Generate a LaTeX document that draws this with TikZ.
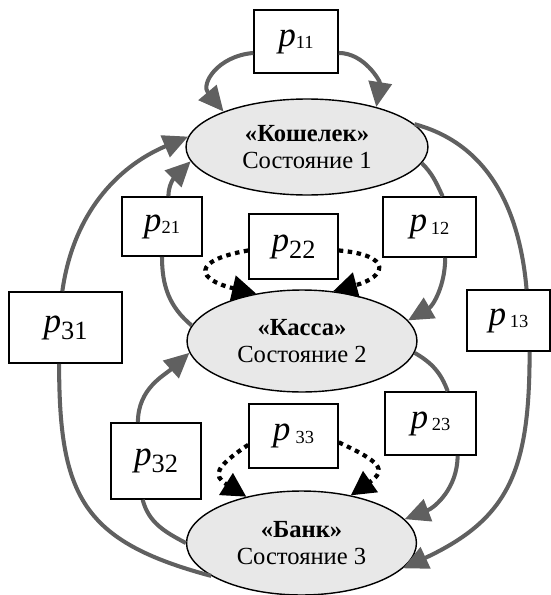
\documentclass[tikz,border=0pt]{standalone}
\usepackage{fontspec}
\setmainfont{Liberation Serif}
\usetikzlibrary{positioning}
\usetikzlibrary{arrows.meta,shapes.geometric}
\definecolor{LinkGray}{RGB}{96,96,96}
\definecolor{StateFill}{RGB}{232,232,232}
\newcommand{\psm}[2][0pt]{\textit{p}\kern#1\raisebox{-1.5pt}{\fontsize{10.5}{11}\selectfont #2}}
\newcommand{\pbig}[1]{\textit{p}\raisebox{-4pt}{\fontsize{15}{15}\selectfont #1}}
\tikzset{
	state/.style={ellipse,draw=black,line width=0.8pt,fill=StateFill,inner sep=0pt,
		align=center,font=\fontsize{14}{15.5}\selectfont},
	pbox/.style={rectangle,draw=black,line width=0.9pt,fill=white,inner sep=0pt,
		font=\fontsize{20}{22}\selectfont},
	link/.style={draw=LinkGray,line width=2.3pt},
	arr/.style={link,-{Triangle[length=0.5cm,width=0.46cm]}},
	selfarr/.style={draw=black,line width=2.4pt,dash pattern=on 0.09cm off 0.09cm,
		-{Triangle[length=0.48cm,width=0.5cm]}},
}
\begin{document}
\begin{tikzpicture}[x=0.02cm,y=-0.02cm]
					\useasboundingbox (0,0) rectangle (551,595);
					\node[state,minimum width=4.84cm,minimum height=1.92cm] (kosh) at (307,147) {\textbf{«Кошелек»}\\Состояние 1};
					\node[state,minimum width=4.6cm,minimum height=2.04cm] (kassa) at (302,341) {\textbf{«Касса»}\\Состояние 2};
					\node[state,minimum width=4.6cm,minimum height=2.08cm] (bank) at (301.5,543) {\textbf{«Банк»}\\Состояние 3};
					\foreach \nm/\x/\y/\w/\h/\lab in {p11/296/41.5/1.68/1.26/{\psm{11}},
						p21/162/226.5/1.6/1.18/{\psm{21}},
						p22/293.5/246.5/1.78/1.3/{\pbig{22}},
						p12/429.5/227/1.86/1.2/{\psm[2pt]{12}},
						p13/508.5/320.5/1.66/1.22/{\psm[2pt]{13}},
						p31/65.5/327.5/2.26/1.42/{\pbig{31}},
						p32/156/461/1.8/1.52/{\pbig{32}},
						p33/293.5/436/1.78/1.28/{\psm[3pt]{33}},
						p23/430.5/423.5/1.82/1.26/{\psm[2pt]{23}}}
					\node[pbox,minimum width=\w cm,minimum height=\h cm] (\nm) at (\x,\y) {\lab};
					\draw[selfarr] (p22.185) to[out=190,in=167,distance=1.2cm] (kassa.134);
					\draw[selfarr] (p22.-5) to[out=-5,in=15,distance=1.1cm] (kassa.58);
					\draw[selfarr] (p33.191) to[out=214,in=148,distance=0.8cm] (bank.140);
					\draw[selfarr] (p33.-8) to[out=-25,in=35,distance=0.9cm] (bank.44);
					\draw[arr] (p11.195) to[out=185,in=130,looseness=1.4] (kosh.157);
					\draw[arr] (p11.-15) to[out=0,in=81] (kosh.30);
					\draw[link] (kassa.172) to[out=140,in=-90] (p21.south);
					\draw[arr] (p21.78) to[out=90,in=225] (kosh.187);
					\draw[link] (bank.200) to[out=165,in=-90,looseness=1.3] (p31.260);
					\draw[arr] (p31.95) to[out=82,in=203] (kosh.175);
					\draw[link] (bank.180) to[out=152,in=-75] (p32.251);
					\draw[arr] (p32.115) to[out=90,in=222] (kassa.186);
					\draw[link] (kosh.352) to[out=-45,in=115] (p12.67);
					\draw[arr] (p12.-63) to[out=-90,in=30] (kassa.11);
					\draw[link] (kosh.12) to[out=-15,in=95] (p13.60);
					\draw[arr] (p13.-56) to[out=-90,in=25,looseness=1.2] (bank.346);
					\draw[link] (kassa.354) to[out=-30,in=110] (p23.62);
					\draw[arr] (p23.-50) to[out=-90,in=21] (bank.13);
				\end{tikzpicture}
\end{document}
